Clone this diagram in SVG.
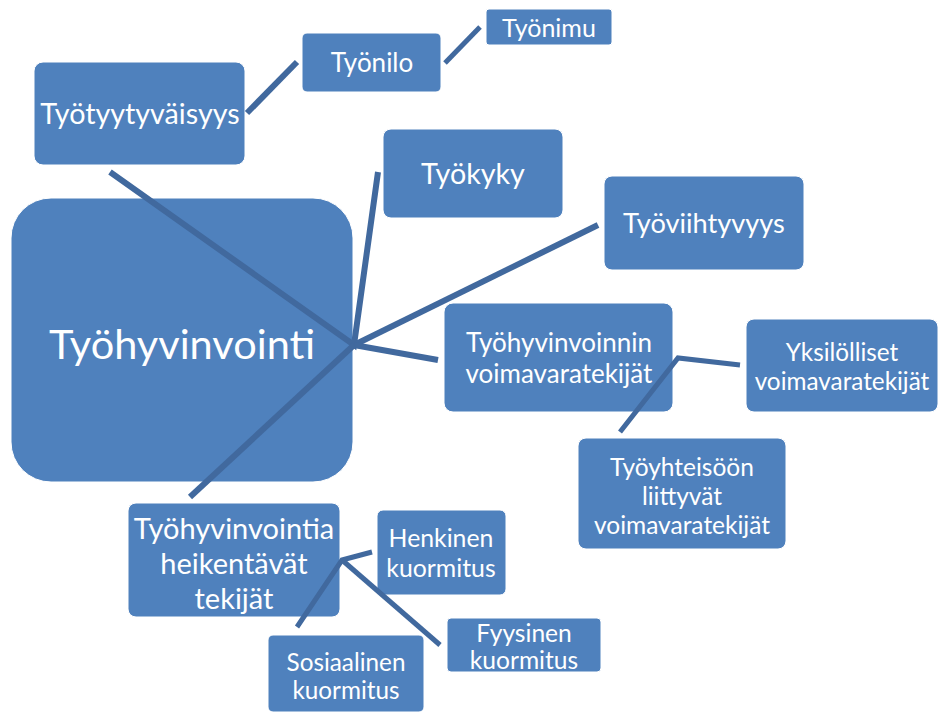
<svg xmlns="http://www.w3.org/2000/svg" width="938" height="715" viewBox="0 0 938 715">
<style>
.b{fill:#4F81BD;stroke:#FFFFFF;stroke-width:1}
.t{fill:#FFFFFF;font-family:Lato,"Open Sans",sans-serif;text-anchor:middle;dominant-baseline:central}
.c{stroke:#41699E;stroke-width:6;fill:none;stroke-linecap:butt;stroke-linejoin:miter}
.s{stroke:#41699E;stroke-width:5;fill:none}
</style>
<rect width="938" height="715" fill="#FFFFFF"/>
<g id="n-tyohyvinvointi"><rect class="b" x="11" y="198" width="342" height="284" rx="40"/><text class="t" x="182" y="343" font-size="41.5">Työhyvinvointi</text></g>
<g id="n-tyotyytyvaisyys"><rect class="b" x="34" y="62" width="211" height="103" rx="9"/><text class="t" x="140" y="113" font-size="28.7">Työtyytyväisyys</text></g>
<g id="n-tyonilo"><rect class="b" x="302" y="33" width="139" height="59" rx="5"/><text class="t" x="372" y="62" font-size="26">Työnilo</text></g>
<g id="n-tyonimu"><rect class="b" x="486" y="9" width="126" height="36" rx="3"/><text class="t" x="549" y="27" font-size="25">Työnimu</text></g>
<g id="n-tyokyky"><rect class="b" x="383" y="129" width="180" height="89" rx="8"/><text class="t" x="473" y="173" font-size="28.7">Työkyky</text></g>
<g id="n-tyoviihtyvyys"><rect class="b" x="604" y="176" width="200" height="94" rx="8"/><text class="t" x="704" y="222" font-size="27.2">Työviihtyvyys</text></g>
<g id="n-voimavara"><rect class="b" x="444" y="303" width="229" height="109" rx="9"/><text class="t" x="559" y="342" font-size="26">Työhyvinvoinnin</text><text class="t" x="559" y="373" font-size="26">voimavaratekijät</text></g>
<g id="n-yksilolliset"><rect class="b" x="746" y="319" width="192" height="93" rx="8"/><text class="t" x="842" y="351" font-size="24.3">Yksilölliset</text><text class="t" x="842" y="380" font-size="24.3">voimavaratekijät</text></g>
<g id="n-tyoyhteiso"><rect class="b" x="578" y="438" width="208" height="111" rx="8"/><text class="t" x="682" y="466" font-size="24.5">Työyhteisöön</text><text class="t" x="682" y="495" font-size="24.5">liittyvät</text><text class="t" x="682" y="524" font-size="24.5">voimavaratekijät</text></g>
<g id="n-heikentavat"><rect class="b" x="128" y="503" width="212" height="114" rx="8"/><text class="t" x="234" y="527" font-size="29">Työhyvinvointia</text><text class="t" x="234" y="562" font-size="29">heikentävät</text><text class="t" x="234" y="597" font-size="29">tekijät</text></g>
<g id="n-henkinen"><rect class="b" x="377" y="510" width="129" height="85" rx="6"/><text class="t" x="441" y="537" font-size="24.8">Henkinen</text><text class="t" x="441" y="567" font-size="24.8">kuormitus</text></g>
<g id="n-fyysinen"><rect class="b" x="447" y="618" width="154" height="54" rx="4"/><text class="t" x="524" y="632" font-size="24.6">Fyysinen</text><text class="t" x="524" y="659" font-size="24.6">kuormitus</text></g>
<g id="n-sosiaalinen"><rect class="b" x="268" y="635" width="156" height="77" rx="5"/><text class="t" x="346" y="661" font-size="24.3">Sosiaalinen</text><text class="t" x="346" y="689" font-size="24.3">kuormitus</text></g>
<g id="connectors">
<polyline class="c" points="110,172 354,345 378,172"/>
<line class="c" x1="354" y1="345" x2="598" y2="225"/>
<line class="c" x1="354" y1="345" x2="438" y2="360"/>
<line class="c" x1="354" y1="345" x2="190" y2="497"/>
<line class="c" x1="247" y1="113" x2="297" y2="62"/>
<line class="s" x1="445" y1="63" x2="480" y2="27"/>
<polyline class="s" points="620,432 678,358 740,365"/>
<polyline class="s" points="297,627 342,560 372,552"/>
<line class="s" x1="342" y1="560" x2="440" y2="645"/>
</g>
</svg>
